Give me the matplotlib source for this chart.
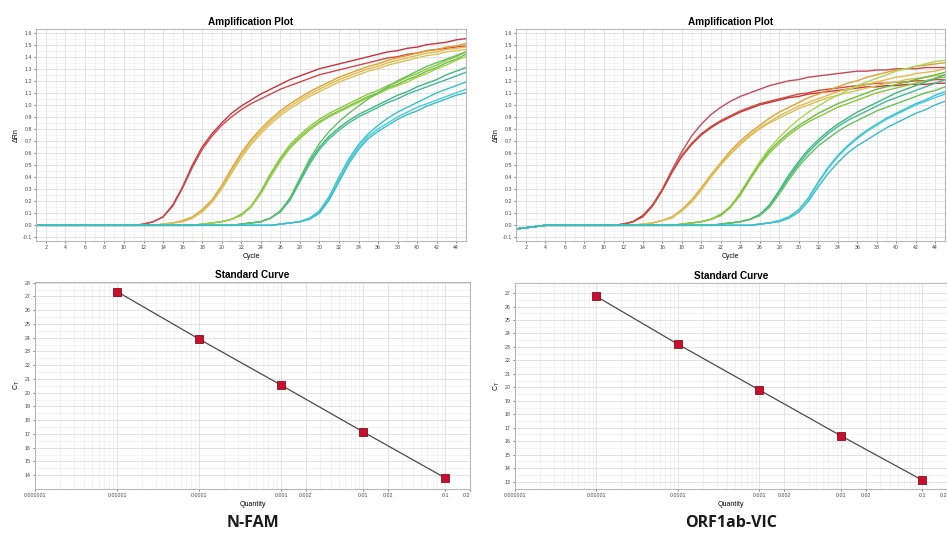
import matplotlib
matplotlib.use("Agg")
import matplotlib.pyplot as plt
from matplotlib.ticker import FixedLocator, NullFormatter, LogLocator

plt.rcParams["font.family"] = ["Liberation Sans", "DejaVu Sans"]

cycles = list(range(1, 46))

# baselines (cycle 1..45)
fam_base = [0.00] * 45
vic_base = [-0.03, -0.02, -0.01] + [0.00] * 42

# N-FAM amplification curves: (onset cycle, values from onset to cycle 45)
fam_red1 = (12, [0.01, 0.03, 0.07, 0.17, 0.32, 0.50, 0.65, 0.76, 0.85, 0.93, 0.99, 1.04, 1.09, 1.13, 1.17, 1.21, 1.24,
                 1.27, 1.30, 1.32, 1.34, 1.36, 1.38, 1.40, 1.42, 1.44, 1.45, 1.47, 1.48, 1.50, 1.51, 1.52, 1.54, 1.55])
fam_red2 = (12, [0.01, 0.03, 0.07, 0.16, 0.31, 0.48, 0.63, 0.74, 0.83, 0.90, 0.96, 1.01, 1.05, 1.09, 1.13, 1.16, 1.19,
                 1.22, 1.25, 1.27, 1.29, 1.31, 1.33, 1.35, 1.37, 1.39, 1.40, 1.42, 1.43, 1.45, 1.46, 1.47, 1.48, 1.49])
fam_yel1 = (14, [0.01, 0.02, 0.04, 0.07, 0.13, 0.21, 0.33, 0.47, 0.60, 0.71, 0.80, 0.88, 0.95, 1.01, 1.06, 1.11, 1.15,
                 1.19, 1.23, 1.26, 1.29, 1.32, 1.34, 1.37, 1.39, 1.41, 1.43, 1.45, 1.46, 1.48, 1.49, 1.51])
fam_yel2 = (14, [0.01, 0.02, 0.03, 0.06, 0.12, 0.20, 0.31, 0.45, 0.58, 0.69, 0.78, 0.86, 0.93, 0.99, 1.04, 1.09, 1.13,
                 1.17, 1.21, 1.24, 1.27, 1.30, 1.32, 1.35, 1.37, 1.39, 1.41, 1.43, 1.44, 1.46, 1.47, 1.48])
fam_yel3 = (14, [0.01, 0.02, 0.03, 0.06, 0.11, 0.19, 0.30, 0.43, 0.56, 0.67, 0.76, 0.84, 0.91, 0.97, 1.02, 1.07, 1.11,
                 1.15, 1.19, 1.22, 1.25, 1.28, 1.30, 1.33, 1.35, 1.37, 1.39, 1.41, 1.42, 1.44, 1.45, 1.46])
fam_grn1 = (18, [0.01, 0.02, 0.03, 0.05, 0.09, 0.16, 0.28, 0.43, 0.56, 0.67, 0.75, 0.82, 0.88, 0.93, 0.97, 1.01, 1.05,
                 1.09, 1.12, 1.16, 1.19, 1.23, 1.26, 1.30, 1.33, 1.37, 1.40, 1.44])
fam_grn2 = (18, [0.01, 0.02, 0.03, 0.05, 0.09, 0.15, 0.27, 0.41, 0.54, 0.65, 0.73, 0.80, 0.86, 0.91, 0.95, 0.99, 1.03,
                 1.07, 1.10, 1.14, 1.17, 1.21, 1.24, 1.28, 1.31, 1.35, 1.38, 1.42])
fam_grn3 = (18, [0.01, 0.02, 0.03, 0.05, 0.08, 0.15, 0.26, 0.40, 0.53, 0.64, 0.72, 0.79, 0.85, 0.90, 0.94, 0.98, 1.02,
                 1.06, 1.09, 1.13, 1.16, 1.19, 1.23, 1.26, 1.30, 1.33, 1.37, 1.40])
fam_tea1 = (22, [0.01, 0.02, 0.03, 0.06, 0.12, 0.22, 0.38, 0.53, 0.65, 0.74, 0.81, 0.87, 0.92, 0.96, 1.00, 1.04, 1.08,
                 1.11, 1.15, 1.18, 1.21, 1.25, 1.28, 1.31])
fam_tea2 = (22, [0.01, 0.02, 0.03, 0.06, 0.11, 0.21, 0.36, 0.51, 0.63, 0.72, 0.79, 0.85, 0.90, 0.94, 0.98, 1.02, 1.05,
                 1.09, 1.12, 1.15, 1.18, 1.21, 1.24, 1.27])
fam_tea3 = (22, [0.01, 0.02, 0.03, 0.06, 0.12, 0.23, 0.39, 0.55, 0.68, 0.78, 0.86, 0.93, 0.99, 1.05, 1.10, 1.15, 1.20,
                 1.24, 1.28, 1.32, 1.35, 1.38, 1.41, 1.44])
fam_cyn1 = (26, [0.01, 0.02, 0.03, 0.06, 0.12, 0.24, 0.40, 0.55, 0.67, 0.76, 0.83, 0.89, 0.94, 0.98, 1.02, 1.06, 1.10,
                 1.13, 1.16, 1.19])
fam_cyn2 = (26, [0.01, 0.02, 0.03, 0.06, 0.11, 0.22, 0.38, 0.53, 0.65, 0.74, 0.80, 0.85, 0.90, 0.94, 0.98, 1.01, 1.04,
                 1.07, 1.10, 1.13])
fam_cyn3 = (26, [0.01, 0.02, 0.03, 0.05, 0.10, 0.21, 0.36, 0.51, 0.63, 0.72, 0.78, 0.83, 0.88, 0.92, 0.95, 0.99, 1.02,
                 1.05, 1.08, 1.10])

# ORF1ab-VIC amplification curves
vic_red1 = (12, [0.01, 0.03, 0.08, 0.17, 0.30, 0.46, 0.61, 0.74, 0.84, 0.92, 0.98, 1.03, 1.07, 1.10, 1.13, 1.16, 1.18,
                 1.20, 1.21, 1.23, 1.24, 1.25, 1.26, 1.27, 1.28, 1.28, 1.29, 1.29, 1.30, 1.30, 1.30, 1.31, 1.31, 1.31])
vic_red2 = (12, [0.01, 0.03, 0.08, 0.16, 0.29, 0.44, 0.57, 0.67, 0.75, 0.81, 0.86, 0.90, 0.94, 0.97, 1.00, 1.02, 1.04,
                 1.06, 1.07, 1.09, 1.10, 1.11, 1.12, 1.13, 1.14, 1.15, 1.15, 1.16, 1.16, 1.17, 1.17, 1.17, 1.18, 1.18])
vic_red3 = (12, [0.01, 0.03, 0.07, 0.16, 0.29, 0.44, 0.58, 0.68, 0.76, 0.82, 0.87, 0.91, 0.95, 0.98, 1.01, 1.03, 1.05,
                 1.07, 1.09, 1.10, 1.12, 1.13, 1.14, 1.15, 1.16, 1.17, 1.18, 1.18, 1.19, 1.19, 1.20, 1.20, 1.21, 1.21])
vic_yel1 = (14, [0.01, 0.02, 0.04, 0.07, 0.13, 0.21, 0.31, 0.42, 0.52, 0.62, 0.70, 0.77, 0.83, 0.89, 0.94, 0.98, 1.02,
                 1.06, 1.09, 1.12, 1.15, 1.18, 1.20, 1.23, 1.25, 1.27, 1.29, 1.30, 1.32, 1.33, 1.34, 1.35])
vic_yel2 = (14, [0.01, 0.02, 0.04, 0.07, 0.12, 0.20, 0.30, 0.41, 0.51, 0.60, 0.68, 0.75, 0.81, 0.86, 0.91, 0.95, 0.99,
                 1.02, 1.05, 1.08, 1.11, 1.13, 1.15, 1.17, 1.19, 1.21, 1.23, 1.24, 1.26, 1.27, 1.28, 1.30])
vic_yel3 = (14, [0.01, 0.02, 0.04, 0.06, 0.12, 0.19, 0.29, 0.40, 0.50, 0.59, 0.67, 0.74, 0.80, 0.85, 0.89, 0.93, 0.97,
                 1.00, 1.03, 1.06, 1.08, 1.10, 1.12, 1.14, 1.16, 1.18, 1.19, 1.21, 1.22, 1.23, 1.24, 1.25])
vic_grn1 = (18, [0.01, 0.02, 0.03, 0.05, 0.09, 0.16, 0.27, 0.40, 0.53, 0.64, 0.73, 0.81, 0.88, 0.94, 0.99, 1.04, 1.08,
                 1.12, 1.16, 1.19, 1.22, 1.25, 1.28, 1.30, 1.32, 1.34, 1.36, 1.37])
vic_grn2 = (18, [0.01, 0.02, 0.03, 0.05, 0.09, 0.15, 0.26, 0.39, 0.51, 0.62, 0.70, 0.77, 0.83, 0.88, 0.93, 0.97, 1.01,
                 1.04, 1.07, 1.10, 1.13, 1.15, 1.17, 1.19, 1.21, 1.23, 1.25, 1.27])
vic_grn3 = (18, [0.01, 0.02, 0.03, 0.05, 0.08, 0.15, 0.25, 0.38, 0.50, 0.60, 0.68, 0.75, 0.81, 0.86, 0.90, 0.94, 0.98,
                 1.01, 1.04, 1.07, 1.10, 1.12, 1.14, 1.16, 1.18, 1.20, 1.22, 1.23])
vic_tea1 = (22, [0.01, 0.02, 0.03, 0.05, 0.09, 0.17, 0.29, 0.42, 0.53, 0.63, 0.71, 0.78, 0.84, 0.89, 0.94, 0.98, 1.02,
                 1.06, 1.10, 1.13, 1.16, 1.19, 1.22, 1.25])
vic_tea2 = (22, [0.01, 0.02, 0.03, 0.05, 0.09, 0.16, 0.28, 0.40, 0.51, 0.61, 0.69, 0.76, 0.82, 0.87, 0.91, 0.95, 0.99,
                 1.03, 1.06, 1.09, 1.12, 1.15, 1.18, 1.21])
vic_tea3 = (22, [0.01, 0.02, 0.03, 0.05, 0.08, 0.15, 0.26, 0.38, 0.49, 0.58, 0.66, 0.72, 0.78, 0.83, 0.87, 0.91, 0.95,
                 0.98, 1.01, 1.04, 1.07, 1.10, 1.12, 1.15])
vic_cyn1 = (26, [0.01, 0.02, 0.04, 0.07, 0.13, 0.23, 0.36, 0.48, 0.58, 0.66, 0.73, 0.79, 0.84, 0.89, 0.93, 0.97, 1.01,
                 1.04, 1.08, 1.11])
vic_cyn2 = (26, [0.01, 0.02, 0.04, 0.07, 0.13, 0.22, 0.35, 0.47, 0.57, 0.65, 0.72, 0.78, 0.83, 0.88, 0.92, 0.96, 1.00,
                 1.03, 1.06, 1.09])
vic_cyn3 = (26, [0.01, 0.02, 0.03, 0.06, 0.11, 0.20, 0.32, 0.43, 0.52, 0.60, 0.66, 0.71, 0.76, 0.81, 0.85, 0.89, 0.93,
                 0.96, 1.00, 1.03])

fam_curves = [fam_red1, fam_red2, fam_yel1, fam_yel2, fam_yel3, fam_grn1, fam_grn2, fam_grn3,
              fam_tea1, fam_tea2, fam_tea3, fam_cyn1, fam_cyn2, fam_cyn3]
vic_curves = [vic_red1, vic_red2, vic_red3, vic_yel1, vic_yel2, vic_yel3, vic_grn1, vic_grn2, vic_grn3,
              vic_tea1, vic_tea2, vic_tea3, vic_cyn1, vic_cyn2, vic_cyn3]

fam_colors = ["#c8323c", "#d04848", "#e0a030", "#e6b84c", "#d8c25a", "#8cc63f", "#6abf3a", "#a2d24e",
              "#3cb878", "#40b89a", "#62c25a", "#30c4d0", "#4acbd8", "#38bcc8"]
vic_colors = ["#c84858", "#c8343a", "#d04a3a", "#e0a030", "#e6b84c", "#d8c25a", "#a6d84e", "#6abf3a", "#8cc63f",
              "#3cb878", "#40b89a", "#62c25a", "#30c4d0", "#4acbd8", "#38bcc8"]

# standard curves
quantity = [0.00001, 0.0001, 0.001, 0.01, 0.1]
fam_ct = [27.35, 23.9, 20.55, 17.15, 13.8]
vic_ct = [26.75, 23.2, 19.8, 16.4, 13.1]

amp_yticks = [-0.1, 0.0, 0.1, 0.2, 0.3, 0.4, 0.5, 0.6, 0.7, 0.8, 0.9, 1.0, 1.1, 1.2, 1.3, 1.4, 1.5, 1.6]
amp_xticks = list(range(2, 45, 2))
q_ticks = [0.000001, 0.00001, 0.0001, 0.001, 0.002, 0.01, 0.02, 0.1, 0.2]
q_labels = ["0.000001", "0.00001", "0.0001", "0.001", "0.002", "0.01", "0.02", "0.1", "0.2"]

W, H = 947, 534
fig = plt.figure(figsize=(W / 100, H / 100), dpi=100)


def box(x0, y0, x1, y1):
    return [x0 / W, 1 - y1 / H, (x1 - x0) / W, (y1 - y0) / H]


def style(ax):
    for s in ax.spines.values():
        s.set_color("#b8b8b8")
        s.set_linewidth(0.8)
    ax.tick_params(labelsize=3.8, colors="#444444", length=1.5, width=0.5, pad=1.5)
    ax.tick_params(which="minor", length=0)
    ax.set_axisbelow(True)


def amp_plot(rect, base, curves, colors):
    ax = fig.add_axes(rect)
    for (onset, vals), col in zip(curves, colors):
        ax.plot(cycles, base[:onset - 1] + vals, color=col, lw=1.0)
    ax.set_xlim(1, 45)
    ax.set_ylim(-0.13, 1.63)
    ax.set_xticks(amp_xticks)
    ax.set_yticks(amp_yticks)
    ax.set_yticklabels(["%.1f" % v for v in amp_yticks])
    ax.xaxis.set_minor_locator(FixedLocator(list(range(1, 46))))
    ax.yaxis.set_minor_locator(FixedLocator([v + 0.05 for v in amp_yticks]))
    ax.grid(which="major", color="#dedede", lw=0.6)
    ax.grid(which="minor", color="#eeeeee", lw=0.5)
    ax.set_title("Amplification Plot", fontsize=7.2, fontweight="bold", pad=3)
    ax.set_xlabel("Cycle", fontsize=5, labelpad=2)
    ax.set_ylabel("\u0394Rn", fontsize=5, labelpad=2)
    style(ax)
    return ax


def std_plot(rect, ct, ylim, yticks, name):
    ax = fig.add_axes(rect)
    ax.set_xscale("log")
    ax.plot(quantity, ct, color="#4a4a4a", lw=0.9, zorder=2)
    ax.plot(quantity, ct, ls="none", marker="s", ms=5.5, mfc="#c8102e", mec="#8a0a1e", mew=0.6, zorder=3)
    ax.set_xlim(0.000001, 0.2)
    ax.set_ylim(*ylim)
    ax.set_xticks(q_ticks)
    ax.set_xticklabels(q_labels)
    ax.get_xticklabels()[-1].set_horizontalalignment("right")
    ax.xaxis.set_minor_locator(LogLocator(base=10, subs=range(2, 10), numticks=20))
    ax.xaxis.set_minor_formatter(NullFormatter())
    ax.set_yticks(yticks)
    ax.yaxis.set_minor_locator(FixedLocator([v + 0.5 for v in yticks]))
    ax.grid(which="major", color="#dedede", lw=0.6)
    ax.grid(which="minor", color="#eeeeee", lw=0.5)
    ax.set_title("Standard Curve", fontsize=7.2, fontweight="bold", pad=3)
    ax.set_xlabel("Quantity", fontsize=5, labelpad=2)
    ax.set_ylabel("C$_\\mathregular{T}$", fontsize=5, labelpad=2)
    style(ax)
    ax.text(0.5, -0.165, name, transform=ax.transAxes, ha="center", va="center",
            fontsize=11.5, fontweight="bold", family=["Open Sans", "DejaVu Sans"], color="#1a1a1a")
    return ax


amp_plot(box(36, 29, 466, 241), fam_base, fam_curves, fam_colors)
amp_plot(box(516, 29, 945, 241), vic_base, vic_curves, vic_colors)
std_plot(box(35, 282, 470, 489), fam_ct, (13.0, 28.05), list(range(14, 29)), "N-FAM")
std_plot(box(515, 283, 947, 489), vic_ct, (12.45, 27.75), list(range(13, 28)), "ORF1ab-VIC")

fig.savefig("out.png", dpi=100, facecolor="white")
